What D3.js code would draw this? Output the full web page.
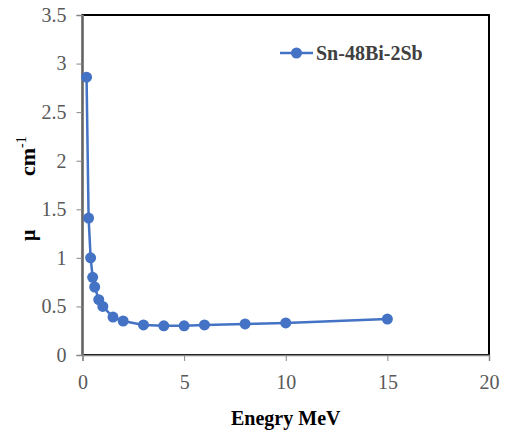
<!DOCTYPE html>
<html>
<head>
<meta charset="utf-8">
<script src="https://cdn.jsdelivr.net/npm/d3@7"></script>
<style>
  body { margin: 0; background: #fff; }
</style>
</head>
<body>
<div id="chart"></div>
<script>
// data
const seriesName = "Sn-48Bi-2Sb";
const energy = [0.2, 0.3, 0.4, 0.5, 0.6, 0.8, 1, 1.5, 2, 3, 4, 5, 6, 8, 10, 15];
const mu = [2.86, 1.41, 1.0, 0.8, 0.7, 0.57, 0.5, 0.39, 0.35, 0.31, 0.30, 0.30, 0.31, 0.32, 0.33, 0.37];
const xTicks = [0, 5, 10, 15, 20];
const yTicks = [0, 0.5, 1, 1.5, 2, 2.5, 3, 3.5];

const FONT = "'Liberation Serif', 'Times New Roman', serif";

const margin = {top: 15, right: 18, bottom: 86, left: 82.5},
  width = 507 - margin.left - margin.right,
  height = 441 - margin.top - margin.bottom;

const svg = d3.select("#chart")
  .append("svg")
  .attr("width", 507)
  .attr("height", 441)
  .append("g")
  .attr("transform", `translate(${margin.left},${margin.top})`);

const x = d3.scaleLinear().domain([0, 20]).range([0, width]);
const y = d3.scaleLinear().domain([0, 3.5]).range([height, 0]);

// plot border
svg.append("rect")
  .attr("width", width)
  .attr("height", height)
  .attr("fill", "none")
  .attr("stroke", "#000")
  .attr("stroke-width", 2);

// axes
const xAxis = svg.append("g")
  .attr("transform", `translate(0,${height})`)
  .call(d3.axisBottom(x).tickValues(xTicks).tickSize(6).tickPadding(14).tickFormat(d3.format("")));
const yAxis = svg.append("g")
  .call(d3.axisLeft(y).tickValues(yTicks).tickSize(6).tickPadding(10).tickFormat(d3.format("")));

[xAxis, yAxis].forEach(a => {
  a.select(".domain").attr("stroke", "#868686").attr("stroke-width", 1.5);
  a.selectAll(".tick line").attr("stroke", "#868686");
  a.selectAll("text")
    .style("font-family", FONT)
    .style("font-size", "20px")
    .attr("fill", "#595959");
});

// line and markers
const color = "#4472C4";
const pts = energy.map((e, i) => ({e: e, m: mu[i]}));

svg.append("path")
  .datum(pts)
  .attr("fill", "none")
  .attr("stroke", color)
  .attr("stroke-width", 2.5)
  .attr("d", d3.line().x(d => x(d.e)).y(d => y(d.m)));

svg.selectAll("circle.pt")
  .data(pts)
  .enter()
  .append("circle")
    .attr("class", "pt")
    .attr("cx", d => x(d.e))
    .attr("cy", d => y(d.m))
    .attr("r", 5.5)
    .attr("fill", color);

// legend
const lg = svg.append("g").attr("transform", `translate(${280 - margin.left},${53 - margin.top})`);
lg.append("line").attr("x1", 0).attr("x2", 33).attr("stroke", color).attr("stroke-width", 2.5);
lg.append("circle").attr("cx", 16.5).attr("r", 5.5).attr("fill", color);
lg.append("text")
  .attr("x", 36)
  .attr("y", 7)
  .attr("fill", "#404040")
  .style("font-family", FONT)
  .style("font-size", "20px")
  .style("font-weight", "bold")
  .text(seriesName);

// axis titles
svg.append("text")
  .attr("x", width / 2)
  .attr("y", height + 70)
  .attr("text-anchor", "middle")
  .style("font-family", FONT)
  .style("font-size", "20px")
  .style("font-weight", "bold")
  .text("Enegry MeV");

const yt = d3.select("svg").append("g");
yt.append("text")
  .attr("transform", "translate(35,241) rotate(-90)")
  .style("font-family", FONT)
  .style("font-size", "20px")
  .style("font-weight", "bold")
  .text("μ");
const cm = yt.append("text")
  .attr("transform", "translate(35,176) rotate(-90)")
  .style("font-family", FONT)
  .style("font-size", "22px")
  .style("font-weight", "bold");
cm.append("tspan").text("cm");
cm.append("tspan").attr("dy", -9).style("font-size", "14px").style("font-weight", "normal").text("-1");
</script>
</body>
</html>
